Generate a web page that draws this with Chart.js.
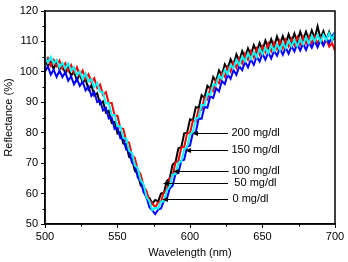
<!DOCTYPE html>
<html>
<head>
<meta charset="utf-8">
<script src="https://cdn.jsdelivr.net/npm/chart.js@4"></script>
<style>
html,body{margin:0;padding:0;background:#fff;}
canvas{display:block;}
</style>
</head>
<body>
<canvas id="c" width="348" height="262"></canvas>
<script>
const wavelengths = [500,502,504,506,508,510,512,514,516,518,520,522,524,526,528,530,532,534,536,538,540,542,544,546,548,550,552,554,556,558,560,562,564,566,568,570,572,574,576,578,580,582,584,586,588,590,592,594,596,598,600,602,604,606,608,610,612,614,616,618,620,622,624,626,628,630,632,634,636,638,640,642,644,646,648,650,652,654,656,658,660,662,664,666,668,670,672,674,676,678,680,682,684,686,688,690,692,694,696,698,700];

const seriesNames = ['cyan','blue','red','black'];

const cyanValues = [105.0,103.0,104.9,102.7,103.9,101.5,103.0,101.0,102.8,100.4,101.5,98.9,100.1,97.6,99.5,96.9,97.6,94.9,96.3,93.4,93.3,89.6,89.7,85.8,85.8,82.1,82.1,78.3,78.1,74.1,73.3,69.2,68.3,64.3,63.1,58.9,57.5,54.6,55.3,55.1,57.4,57.4,61.0,62.3,66.2,66.4,70.2,70.5,74.6,75.3,79.5,80.1,84.7,85.0,89.1,89.0,92.9,92.4,96.0,95.6,98.8,97.7,100.7,99.3,102.2,101.2,104.0,102.3,105.0,103.5,106.1,104.2,106.6,104.8,107.6,105.8,107.9,106.1,108.7,106.9,109.2,107.2,109.5,107.8,110.3,108.4,110.5,108.4,110.8,109.1,111.4,109.4,111.9,110.0,112.1,109.9,112.2,110.4,112.7,110.5,112.8];

const blueValues = [100.1,101.8,99.1,100.7,98.3,100.4,98.3,99.9,97.1,98.5,95.9,97.7,95.4,96.8,93.9,95.2,92.1,93.3,90.1,90.6,87.3,88.2,84.7,85.0,81.3,81.7,78.2,78.2,74.5,74.0,70.1,69.2,65.3,64.1,60.4,58.9,55.5,54.5,53.3,54.7,55.1,57.6,58.2,61.7,62.6,66.5,66.8,70.8,71.1,75.4,75.8,80.0,80.2,84.7,84.6,88.5,88.2,92.0,91.4,94.6,93.6,97.0,96.0,99.1,97.7,100.6,99.0,101.9,100.6,103.3,101.5,104.1,102.3,105.0,103.4,106.0,104.0,106.4,104.4,106.9,105.3,107.7,105.6,108.0,106.0,108.5,106.7,109.1,107.0,109.3,107.2,109.6,107.9,110.2,108.1,110.4,108.6,111.1,109.5,111.8,113.0];

const redValues = [102.8,104.5,102.0,103.9,101.9,103.7,101.1,102.8,100.3,102.2,99.7,101.5,98.8,100.4,97.6,99.2,96.6,97.9,94.7,95.8,92.4,93.3,89.6,89.8,85.6,85.6,81.5,81.3,77.3,76.7,72.6,71.7,67.6,66.3,62.3,60.9,57.5,56.8,55.4,57.1,57.4,60.5,61.1,65.0,65.9,70.2,70.7,75.1,75.3,79.8,79.8,84.0,83.7,87.8,87.5,91.6,90.9,94.6,93.7,97.4,96.3,99.6,98.3,101.7,100.1,103.2,101.4,104.5,102.8,106.0,104.0,106.8,104.7,107.7,105.6,108.3,106.4,109.3,106.8,109.6,107.5,110.2,107.8,110.5,108.4,110.8,108.7,111.4,108.9,111.5,109.3,111.6,109.3,111.7,109.3,111.3,108.8,110.7,108.3,109.4,107.0];

const blackValues = [104.3,101.8,103.3,100.9,103.5,100.8,102.2,99.6,101.6,98.7,100.1,97.3,99.2,96.4,97.6,94.2,95.6,92.2,93.0,89.4,90.3,86.6,87.2,83.2,83.5,79.7,80.2,76.4,76.3,72.0,71.5,67.4,66.6,62.7,61.9,58.7,58.6,56.7,57.9,57.4,60.0,60.3,64.1,65.0,69.5,70.3,74.9,75.2,79.8,80.0,84.4,84.1,88.4,88.1,92.3,91.4,95.4,94.4,98.3,96.8,100.5,98.8,102.5,100.9,104.1,102.1,105.7,103.6,106.8,104.6,107.7,105.5,108.8,106.6,109.5,107.1,110.3,107.8,110.7,108.2,111.6,108.9,111.7,109.2,112.3,109.8,112.6,109.9,113.2,110.5,113.2,110.6,113.6,111.1,114.9,111.0,113.4,110.5,113.1,110.4,111.5];

const xTickValues = [500,550,600,650,700];
const yTickValues = [50,60,70,80,90,100,110,120];
const xMinorTicks = [525,575,625,675];
const yMinorTicks = [55,65,75,85,95,105,115];

const annoLabels = ['200 mg/dl','150 mg/dl','100 mg/dl','50 mg/dl','0 mg/dl'];
const annoTipX = [601.4,596.6,588.3,581.4,580.7];
const annoY = [79.9,74.3,67.4,63.5,58.2];
const annoLineEndX = [626.2,626.2,626.6,626.2,626.2];
const annoLabelX = [628.6,628.6,628.6,630.6,629.3];

const colors = {cyan:'#00FFFF', blue:'#0000FF', red:'#FF0000', black:'#000000'};
const valuesByName = {cyan:cyanValues, blue:blueValues, red:redValues, black:blackValues};

const datasets = seriesNames.map(n => ({
  label: n,
  data: wavelengths.map((w,i) => ({x:w, y:valuesByName[n][i]})),
  borderColor: colors[n],
  backgroundColor: colors[n],
  borderWidth: 2,
  pointRadius: 0,
  tension: 0,
  fill: false
}));

const FONT = 'Arial, "Liberation Sans", sans-serif';

const framePlugin = {
  id: 'frame',
  afterDatasetsDraw(chart) {
    const ctx = chart.ctx;
    const a = chart.chartArea;
    const xs = chart.scales.x, ys = chart.scales.y;
    ctx.save();
    ctx.strokeStyle = '#000';
    ctx.fillStyle = '#000';
    ctx.lineWidth = 1;
    ctx.font = '11px ' + FONT;
    ctx.textBaseline = 'middle';
    ctx.textAlign = 'left';
    for (let i = 0; i < annoLabels.length; i++) {
      const tx = xs.getPixelForValue(annoTipX[i]);
      const ty = Math.round(ys.getPixelForValue(annoY[i])) + 0.5;
      const ex = xs.getPixelForValue(annoLineEndX[i]);
      ctx.beginPath();
      ctx.moveTo(ex, ty);
      ctx.lineTo(tx + 4, ty);
      ctx.stroke();
      ctx.beginPath();
      ctx.moveTo(tx, ty);
      ctx.lineTo(tx + 6, ty - 2.5);
      ctx.lineTo(tx + 6, ty + 2.5);
      ctx.closePath();
      ctx.fill();
      ctx.fillText(annoLabels[i], xs.getPixelForValue(annoLabelX[i]), ty - 0.5);
    }
    ctx.lineWidth = 1;
    ctx.beginPath();
    xMinorTicks.forEach(v => {
      const px = Math.round(xs.getPixelForValue(v)) + 0.5;
      ctx.moveTo(px, a.bottom);
      ctx.lineTo(px, a.bottom + 2.5);
    });
    yMinorTicks.forEach(v => {
      const py = Math.round(ys.getPixelForValue(v)) + 0.5;
      ctx.moveTo(a.left, py);
      ctx.lineTo(a.left - 2.5, py);
    });
    ctx.stroke();
    ctx.lineWidth = 1.5;
    ctx.strokeRect(a.left, a.top, a.right - a.left, a.bottom - a.top);
    ctx.restore();
  }
};

new Chart(document.getElementById('c'), {
  type: 'line',
  data: { datasets },
  options: {
    responsive: false,
    animation: false,
    devicePixelRatio: 1,
    layout: { padding: { top: 11, right: 13, left: 0, bottom: 0 } },
    plugins: { legend: { display: false }, tooltip: { enabled: false } },
    scales: {
      x: {
        type: 'linear',
        min: 500, max: 700,
        afterBuildTicks: s => { s.ticks = xTickValues.map(v => ({value: v})); },
        afterFit: s => { s.height = 38; },
        ticks: { color: '#000', font: { size: 11, family: FONT }, padding: 2, maxRotation: 0, autoSkip: false },
        grid: { drawOnChartArea: false, tickLength: 4, tickColor: '#000', tickWidth: 1 },
        border: { color: '#000', width: 1.5 },
        title: { display: true, text: 'Wavelength (nm)', color: '#000', font: { size: 11, family: FONT }, padding: { top: 0, bottom: 2 } }
      },
      y: {
        type: 'linear',
        min: 50, max: 120,
        afterBuildTicks: s => { s.ticks = yTickValues.map(v => ({value: v})); },
        afterFit: s => { s.width = 45; },
        ticks: { color: '#000', font: { size: 11, family: FONT }, padding: 3, autoSkip: false },
        grid: { drawOnChartArea: false, tickLength: 4, tickColor: '#000', tickWidth: 1 },
        border: { color: '#000', width: 1.5 },
        title: { display: true, text: 'Reflectance (%)', color: '#000', font: { size: 11, family: FONT }, padding: { top: 2, bottom: 0 } }
      }
    }
  },
  plugins: [framePlugin]
});
</script>
</body>
</html>
